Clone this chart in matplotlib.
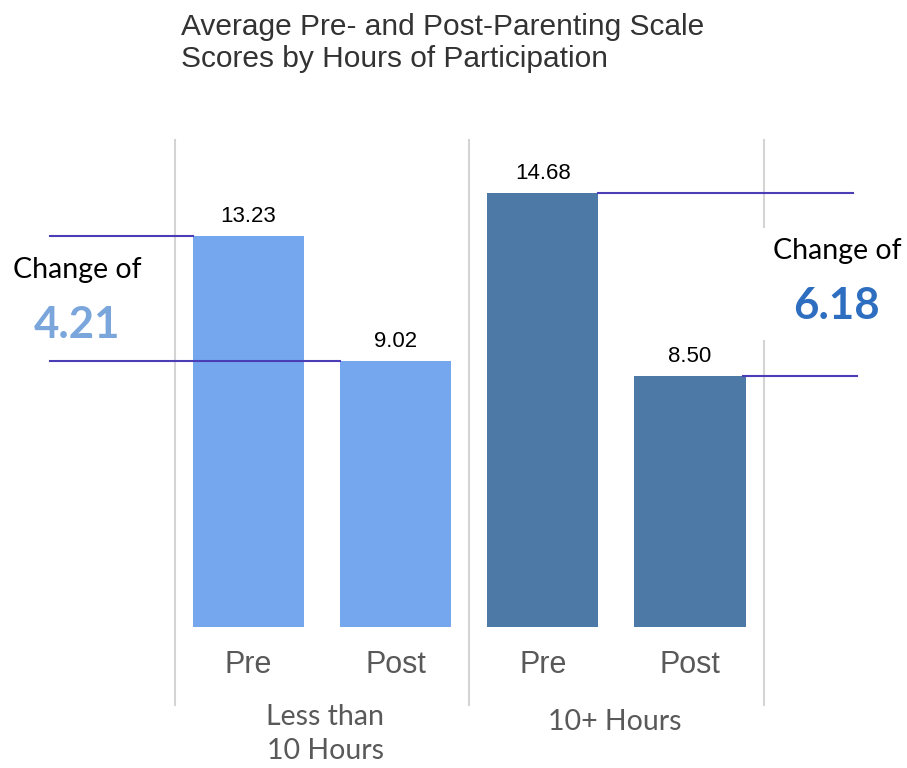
import matplotlib
matplotlib.use("Agg")
import matplotlib.pyplot as plt
from matplotlib.patches import Rectangle

# data
groups = ["Less than\n10 Hours", "10+ Hours"]
phases = ["Pre", "Post", "Pre", "Post"]
scores = [13.23, 9.02, 14.68, 8.50]
changes = ["4.21", "6.18"]
bar_colors = ["#75A7EE", "#75A7EE", "#4D79A6", "#4D79A6"]

title = "Average Pre- and Post-Parenting Scale\nScores by Hours of Participation"

fig = plt.figure(figsize=(9.07, 7.68), dpi=100)
ax = fig.add_axes([0, 0, 1, 1])
ax.set_xlim(-1.688, 4.474)
ax.set_ylim(-4.77, 21.22)
ax.axis("off")

pos = list(range(len(scores)))
w = 0.755
ax.bar(pos, scores, width=w, color=bar_colors, zorder=2)

# value labels
for p, s in zip(pos, scores):
    ax.text(p, s + 0.3, "%.2f" % s, ha="center", va="bottom", fontsize=16,
            family="Liberation Sans", color="black")

# separators
for xs in [-0.5, 1.5, 3.5]:
    ax.plot([xs, xs], [-2.64, 16.48], color="#D4D4D4", lw=1.5, zorder=1)

# white box behind right change text
ax.add_patch(Rectangle((3.43, 9.7), 1.1, 3.8, facecolor="white", edgecolor="none", zorder=1.5))

# change lines
lc = "#4B3DB8"
ax.plot([-1.35, pos[0] - w / 2], [scores[0], scores[0]], color=lc, lw=1.5, zorder=3)
ax.plot([-1.35, pos[1] - w / 2], [scores[1], scores[1]], color=lc, lw=1.5, zorder=3)
ax.plot([pos[2] + w / 2, 4.107], [scores[2], scores[2]], color=lc, lw=1.5, zorder=3)
ax.plot([pos[3] + w / 2 - 0.02, 4.134], [scores[3], scores[3]], color=lc, lw=1.5, zorder=3)

# change text
ax.text(-1.6, 12.08, "Change of", ha="left", va="center", fontsize=20.5, family="Lato")
ax.text(-1.165, 10.22, changes[0], ha="center", va="center", fontsize=31.5,
        family="Lato", fontweight="bold", color="#7AA6DC")
ax.text(3.563, 12.72, "Change of", ha="left", va="center", fontsize=20.5, family="Lato", zorder=4)
ax.text(3.998, 10.86, changes[1], ha="center", va="center", fontsize=31.5,
        family="Lato", fontweight="bold", color="#2E6EC0", zorder=4)

# tick labels
for p, lab in zip(pos, phases):
    ax.text(p, -1.3, lab, ha="center", va="center", fontsize=22,
            family="Liberation Sans", color="#595959")

# group labels
ax.text(0.52, -3.62, groups[0], ha="center", va="center", fontsize=20.5,
        family="Lato", color="#595959", linespacing=1.4)
ax.text(2.49, -3.21, groups[1], ha="center", va="center", fontsize=20.5,
        family="Lato", color="#595959")

fig.text(181 / 907, 1 - 13 / 768, title, ha="left", va="top", fontsize=21.5,
         family="Liberation Sans", color="#333333", linespacing=1.2)

plt.savefig("out.png", dpi=100)
